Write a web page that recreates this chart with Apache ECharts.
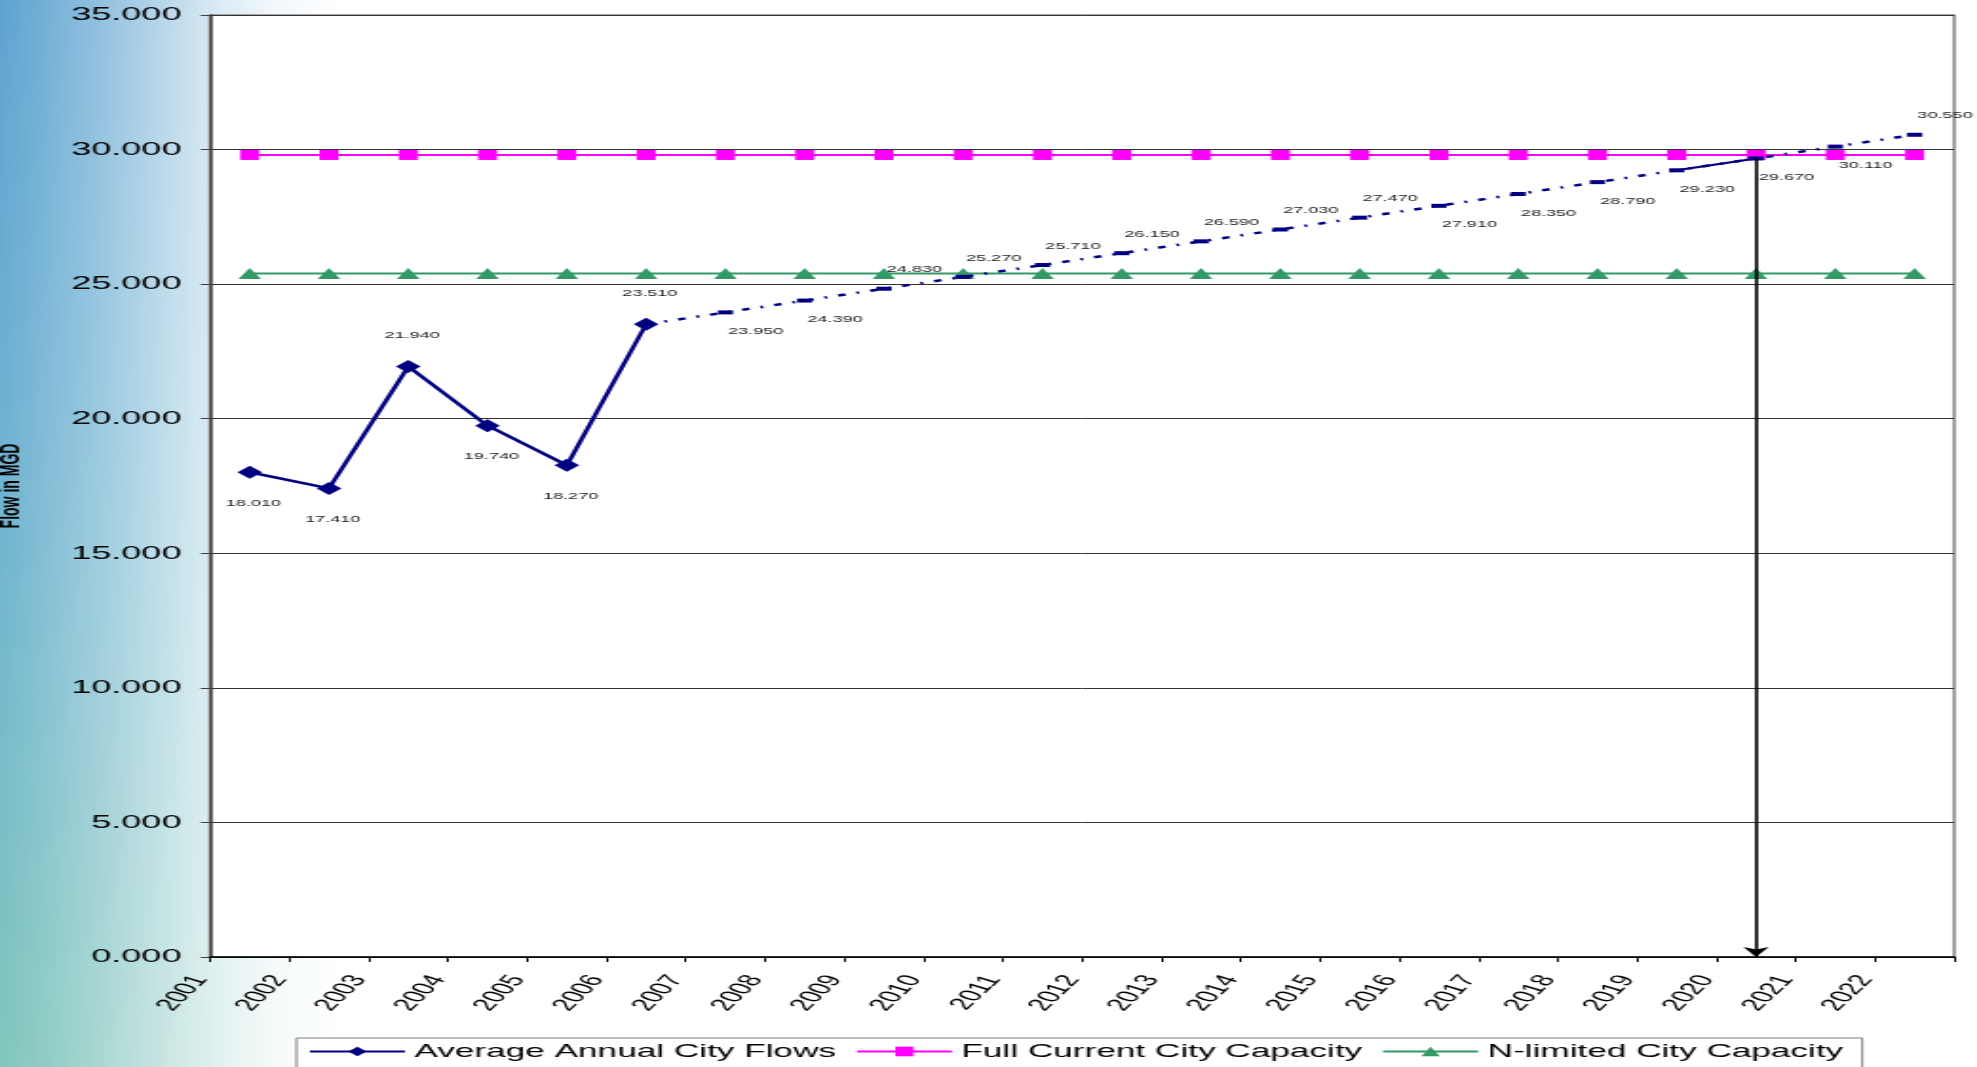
<!DOCTYPE html>
<html>
<head>
<meta charset="utf-8">
<title>City Flows vs Capacity</title>
<script src="https://cdn.jsdelivr.net/npm/echarts@6/dist/echarts.min.js"></script>
<style>
  html, body { margin: 0; padding: 0; width: 1977px; height: 1067px; overflow: hidden; }
  body {
    background:
      linear-gradient(to right,
        rgba(255,255,255,0) 0px,
        rgba(255,255,255,0.10) 35px,
        rgba(255,255,255,0.32) 100px,
        rgba(255,255,255,0.55) 160px,
        rgba(255,255,255,0.78) 220px,
        rgba(255,255,255,0.93) 280px,
        #ffffff 340px),
      linear-gradient(to bottom, #5ea3d0 0%, #6cafd2 35%, #76bacb 65%, #80c6bc 100%);
  }
  /* the chart is laid out narrow and widened horizontally */
  #chart { width: 1040px; height: 1067px; transform: scaleX(1.901); transform-origin: 0 0; }
</style>
</head>
<body>
<div id="chart"></div>
<script>
// Years on the category axis
const years = ['2001','2002','2003','2004','2005','2006','2007','2008','2009','2010','2011',
               '2012','2013','2014','2015','2016','2017','2018','2019','2020','2021','2022'];

// Average annual city flows (MGD): recorded years, then projection
const flowsRecorded  = [18.01, 17.41, 21.94, 19.74, 18.27, 23.51];
const flowsProjected = [23.95, 24.39, 24.83, 25.27, 25.71, 26.15, 26.59, 27.03,
                        27.47, 27.91, 28.35, 28.79, 29.23, 29.67, 30.11, 30.55];

// Plant capacities (MGD)
const fullCapacity = [29.8, 29.8, 29.8, 29.8, 29.8, 29.8, 29.8, 29.8, 29.8, 29.8, 29.8,
                      29.8, 29.8, 29.8, 29.8, 29.8, 29.8, 29.8, 29.8, 29.8, 29.8, 29.8];
const nLimitedCapacity = [25.4, 25.4, 25.4, 25.4, 25.4, 25.4, 25.4, 25.4, 25.4, 25.4, 25.4,
                          25.4, 25.4, 25.4, 25.4, 25.4, 25.4, 25.4, 25.4, 25.4, 25.4, 25.4];

// Value axis
const yMin = 0, yMax = 35, yStep = 5;

// Which side of each flow point its value label sits on
const labelSide = ['below','below','above','below','below','above',
                   'below','below','above','above','above','above','above','above','above',
                   'below','below','below','below','below','below','above'];

// Year in which projected flow meets full capacity (marked with an arrow)
const capacityYear = '2020';
// Projection segment drawn as a solid line
const solidSegment = ['2019', '2020'];

const NAME_FLOWS = 'Average Annual City Flows';
const NAME_FULL  = 'Full Current City Capacity';
const NAME_NLIM  = 'N-limited City Capacity';

const FONT = '"Liberation Sans", Arial, sans-serif';
const NAVY = '#000080';

const allFlows = flowsRecorded.concat(flowsProjected);

function valueLabel(i, dx, dy) {
  const s = labelSide[i] === 'above' ? -1 : 1;
  return {
    show: true, position: 'inside', offset: [dx, s * dy],
    formatter: p => Number(p.value).toFixed(3),
    fontFamily: FONT, fontSize: 9.5, color: '#1a1a1a'
  };
}

const recordedData = years.map((y, i) =>
  i < flowsRecorded.length ? { value: flowsRecorded[i], label: valueLabel(i, 2, 31) } : '-');

const nRec = flowsRecorded.length;
const projectedData = years.map((y, i) => {
  if (i === nRec - 1) return { value: flowsRecorded[i], symbol: 'none', label: { show: false } };
  if (i >= nRec) return { value: flowsProjected[i - nRec], label: valueLabel(i, 16, 19) };
  return '-';
});

const solidData = years.map((y, i) =>
  solidSegment.indexOf(y) >= 0 ? allFlows[i] : '-');

const chart = echarts.init(document.getElementById('chart'), null, { renderer: 'canvas' });

chart.setOption({
  animation: false,
  backgroundColor: 'transparent',
  grid: {
    left: 110.5, right: 12, top: 15, bottom: 110,
    outerBoundsMode: 'none', containLabel: false,
    show: true, backgroundColor: '#ffffff',
    borderColor: '#8c8c8c', borderWidth: 1.6
  },
  legend: {
    left: 156, top: 1038,
    data: [NAME_FLOWS, NAME_FULL, NAME_NLIM],
    itemWidth: 50, itemHeight: 12, itemGap: 10,
    padding: [4, 10, 30, 6],
    borderColor: '#7f7f7f', borderWidth: 1, backgroundColor: '#ffffff',
    formatter: name => name === NAME_FLOWS ? '{w|' + name + '}' : name,
    textStyle: {
      fontFamily: FONT, fontSize: 18.5, color: '#000',
      rich: { w: { fontFamily: FONT, fontSize: 18.5, color: '#000', width: 240 } }
    }
  },
  xAxis: [
    {
      type: 'category', data: years, boundaryGap: true, position: 'bottom',
      axisLine: { show: true, lineStyle: { color: '#000', width: 1.5 } },
      axisTick: { show: true, length: 5, interval: 0, lineStyle: { color: '#000', width: 1 } },
      axisLabel: { show: false },
      splitLine: { show: false }
    },
    {
      // year labels sit on the category boundaries
      type: 'category', data: years.concat(['']), boundaryGap: false, position: 'bottom',
      offset: 0,
      axisLine: { show: false }, axisTick: { show: false }, splitLine: { show: false },
      axisLabel: {
        show: true, interval: 0, rotate: 60, margin: 11, padding: [0, 10, 0, 0],
        fontFamily: FONT, fontSize: 17, color: '#000'
      }
    }
  ],
  yAxis: {
    type: 'value', min: yMin, max: yMax, interval: yStep,
    name: 'Flow in MGD', nameLocation: 'middle', nameRotate: 90, nameGap: 97,
    nameTextStyle: { fontFamily: FONT, fontSize: 14, fontWeight: 'bold', color: '#000' },
    axisLine: { show: true, lineStyle: { color: '#404040', width: 1.6 } },
    axisTick: { show: true, length: 5, lineStyle: { color: '#404040', width: 1 } },
    axisLabel: {
      formatter: v => v.toFixed(3), margin: 15,
      fontFamily: FONT, fontSize: 19, color: '#000'
    },
    splitLine: { show: true, lineStyle: { color: '#333333', width: 1 } }
  },
  series: [
    {
      name: NAME_FLOWS, type: 'line', data: recordedData, z: 4,
      symbol: 'diamond', symbolSize: [13, 13],
      lineStyle: { color: NAVY, width: 2.5 }, itemStyle: { color: NAVY }
    },
    {
      name: NAME_FLOWS, type: 'line', data: projectedData, z: 4,
      symbol: 'rect', symbolSize: [8, 4],
      lineStyle: { color: NAVY, width: 2.5, type: [4, 6, 1.5, 6] }, itemStyle: { color: NAVY }
    },
    {
      name: NAME_FLOWS, type: 'line', data: solidData, z: 4,
      symbol: 'none',
      lineStyle: { color: NAVY, width: 2 },
      markLine: {
        silent: true, symbol: ['none', 'arrow'], symbolSize: 10,
        label: { show: false },
        lineStyle: { color: '#000', width: 1.6, type: 'solid' },
        itemStyle: { color: '#000' },
        data: [[
          { coord: [capacityYear, allFlows[years.indexOf(capacityYear)]] },
          { coord: [capacityYear, yMin] }
        ]]
      }
    },
    {
      name: NAME_FULL, type: 'line', data: fullCapacity, z: 3,
      symbol: 'rect', symbolSize: [10, 10],
      lineStyle: { color: '#FF00FF', width: 2 }, itemStyle: { color: '#FF00FF' }
    },
    {
      name: NAME_NLIM, type: 'line', data: nLimitedCapacity, z: 3,
      symbol: 'triangle', symbolSize: [12, 11],
      lineStyle: { color: '#339966', width: 2 }, itemStyle: { color: '#339966' }
    }
  ]
});
</script>
</body>
</html>
